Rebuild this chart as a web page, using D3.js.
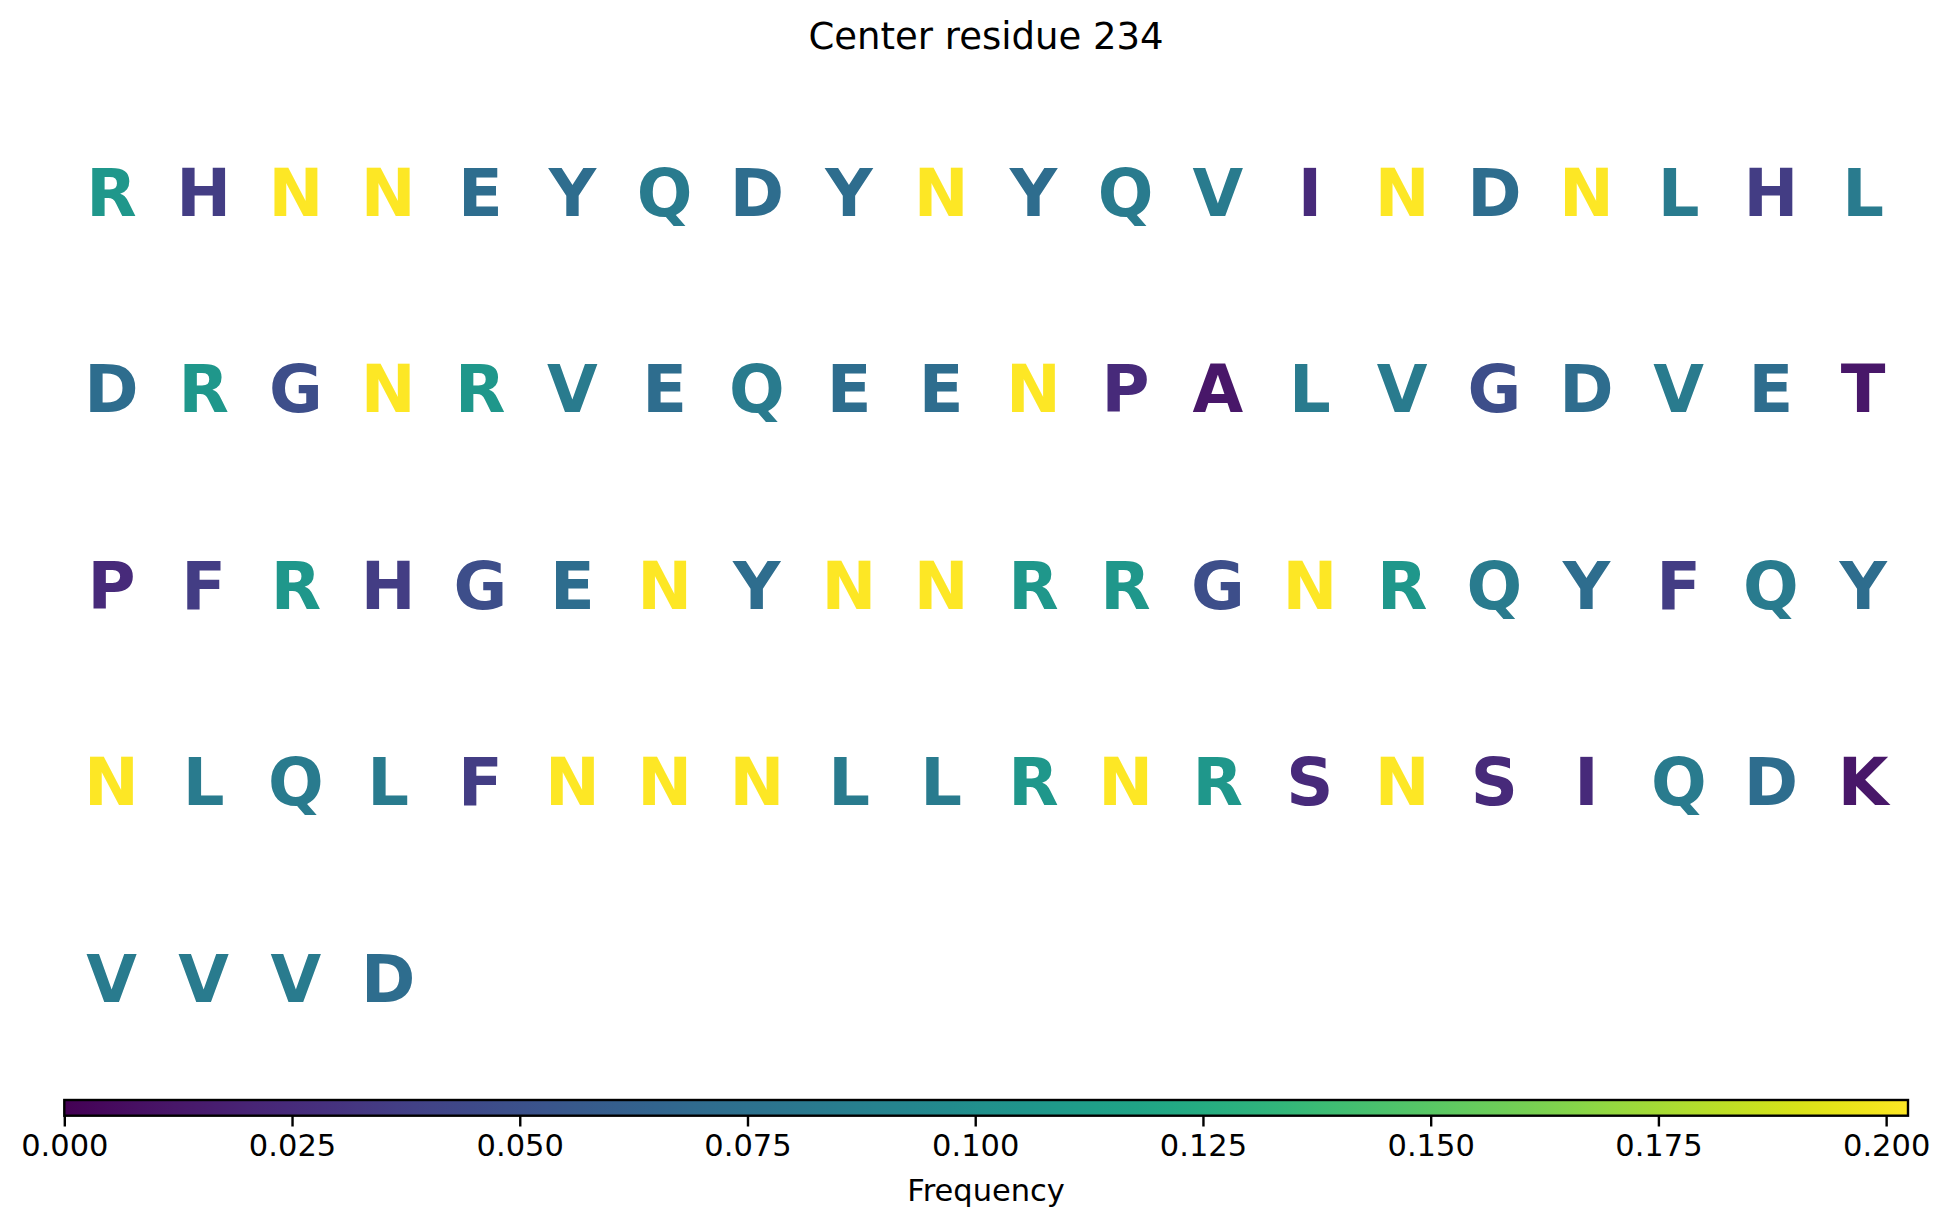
<!DOCTYPE html>
<html>
<head>
<meta charset="utf-8">
<script src="https://cdn.jsdelivr.net/npm/d3@7"></script>
<style>
  html, body { margin: 0; padding: 0; background: #fff; }
  svg { display: block; font-family: "DejaVu Sans", sans-serif; }
</style>
</head>
<body>
<script>
// ---- Data ----
const titleText = "Center residue 234";
const rowsOfResidues = [
  ["R","H","N","N","E","Y","Q","D","Y","N","Y","Q","V","I","N","D","N","L","H","L"],
  ["D","R","G","N","R","V","E","Q","E","E","N","P","A","L","V","G","D","V","E","T"],
  ["P","F","R","H","G","E","N","Y","N","N","R","R","G","N","R","Q","Y","F","Q","Y"],
  ["N","L","Q","L","F","N","N","N","L","L","R","N","R","S","N","S","I","Q","D","K"],
  ["V","V","V","D"]
];
const aminoAcids  = ["N","R","Q","V","L","E","Y","D","G","H","F","I","P","S","A","T","K"];
const frequencies = [0.2024,0.1071,0.0833,0.0833,0.0833,0.0714,0.0714,0.0714,0.0476,0.0357,0.0357,0.0238,0.0238,0.0238,0.0119,0.0119,0.0119];
const colorbarTicks = [0, 0.025, 0.05, 0.075, 0.1, 0.125, 0.15, 0.175, 0.2];
const colorbarLabel = "Frequency";

// ---- Layout ----
const W = 1951, H = 1227;
const freqOf = new Map(aminoAcids.map((a, i) => [a, frequencies[i]]));
const vmax = d3.max(frequencies);
const color = d3.scaleSequential(d3.interpolateViridis).domain([0, vmax]);

const svg = d3.select("body").append("svg").attr("width", W).attr("height", H);

// title
svg.append("text")
  .attr("x", 986).attr("y", 49)
  .attr("text-anchor", "middle")
  .attr("font-size", 37)
  .attr("fill", "#000")
  .text(titleText);

// letters grid
const nCols = 20;
const xCol = d3.scaleLinear().domain([0, nCols - 1]).range([111.5, 1863.1]);
const yRow = d3.scaleLinear().domain([0, rowsOfResidues.length - 1]).range([216, 1001.6]);

const cells = [];
rowsOfResidues.forEach((row, r) => row.forEach((aa, c) => cells.push({aa, r, c})));

svg.append("g").selectAll("text").data(cells).join("text")
  .attr("x", d => xCol(d.c))
  .attr("y", d => yRow(d.r))
  .attr("text-anchor", "middle")
  .attr("font-size", 65.5)
  .attr("font-weight", "bold")
  .attr("fill", d => color(freqOf.get(d.aa)))
  .text(d => d.aa);

// colorbar
const cbX0 = 64.3, cbX1 = 1908, cbY0 = 1100, cbY1 = 1115.7;
const xCb = d3.scaleLinear().domain([0, vmax]).range([cbX0, cbX1]);

const defs = svg.append("defs");
const grad = defs.append("linearGradient").attr("id", "cbgrad")
  .attr("x1", "0%").attr("x2", "100%").attr("y1", "0%").attr("y2", "0%");
d3.range(0, 1.0001, 0.02).forEach(t => {
  grad.append("stop").attr("offset", (t * 100) + "%").attr("stop-color", d3.interpolateViridis(t));
});

svg.append("rect")
  .attr("x", cbX0).attr("y", cbY0)
  .attr("width", cbX1 - cbX0).attr("height", cbY1 - cbY0)
  .attr("fill", "url(#cbgrad)")
  .attr("stroke", "#000").attr("stroke-width", 2.4);

const axis = d3.axisBottom(xCb)
  .tickValues(colorbarTicks)
  .tickFormat(d3.format(".3f"))
  .tickSize(10.8)
  .tickPadding(8);

const gAxis = svg.append("g").attr("transform", `translate(0,${cbY1})`).call(axis);
gAxis.select(".domain").remove();
gAxis.selectAll(".tick line").attr("stroke", "#000").attr("stroke-width", 2.4);
gAxis.selectAll(".tick text")
  .attr("font-family", "DejaVu Sans, sans-serif")
  .attr("font-size", 30.5)
  .attr("fill", "#000");

svg.append("text")
  .attr("x", (cbX0 + cbX1) / 2).attr("y", 1200.7)
  .attr("text-anchor", "middle")
  .attr("font-size", 30.5)
  .attr("fill", "#000")
  .text(colorbarLabel);
</script>
</body>
</html>
